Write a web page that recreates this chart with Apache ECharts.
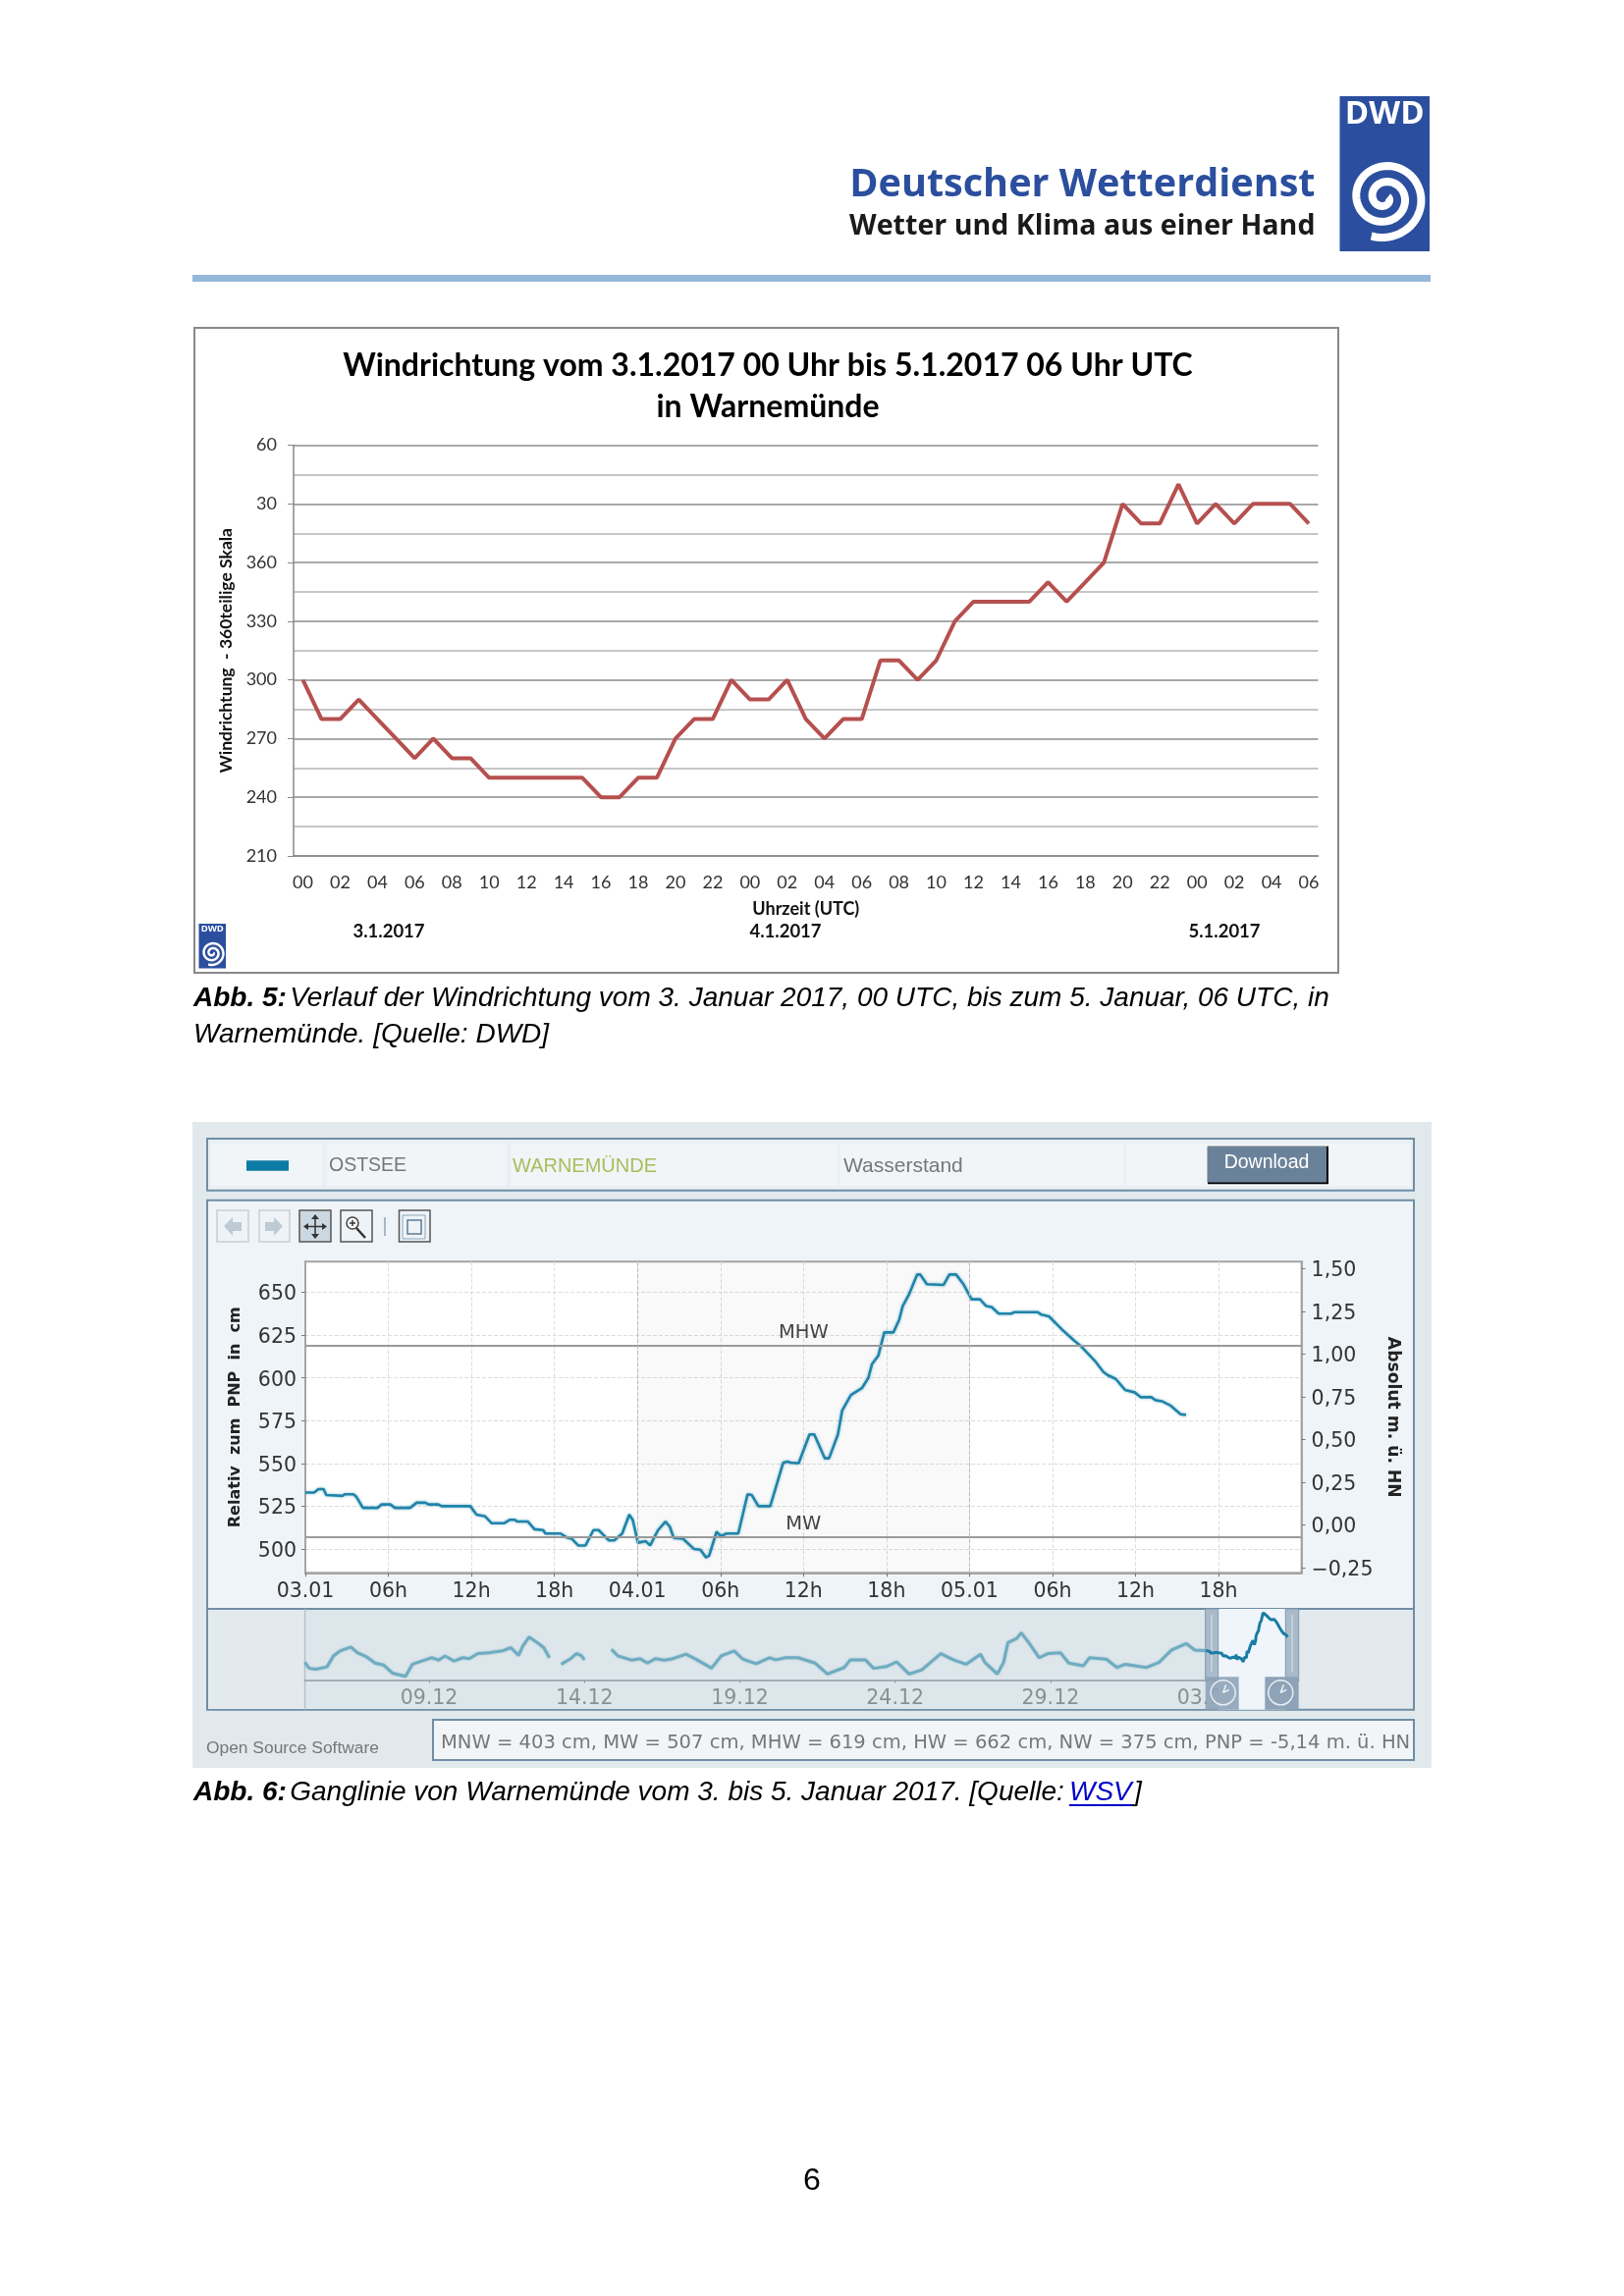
<!DOCTYPE html>
<html><head><meta charset="utf-8">
<script src="https://cdn.jsdelivr.net/npm/echarts@6/dist/echarts.min.js"></script>
<style>html,body{margin:0;padding:0;background:#fff}#c{width:1654px;height:2339px}</style>
</head><body><div id="c"></div>
<script>
// ---- Abb. 5: wind direction (hourly, unwrapped above 360)
const windHours = ['00','01','02','03','04','05','06','07','08','09','10','11','12','13','14','15','16','17','18','19','20','21','22','23',
 '00','01','02','03','04','05','06','07','08','09','10','11','12','13','14','15','16','17','18','19','20','21','22','23',
 '00','01','02','03','04','05','06'];
const windDir = [300,280,280,290,280,270,260,270,260,260,250,250,250,250,250,250,240,240,250,250,270,280,280,300,
 290,290,300,280,270,280,280,310,310,300,310,330,340,340,340,340,350,340,350,360,390,380,380,400,380,390,380,390,390,390,380];
const windAxisWrap = 360;

// ---- Abb. 6: water level main chart
const levelHours = [0,.63,.95,1.32,1.51,2.68,2.84,3.47,3.69,4.16,5.21,5.52,6.15,6.47,7.57,8.04,8.68,8.9,9.62,9.84,11.92,12.37,13,13.47,14.35,14.76,15.14,15.3,16.09,16.56,17.19,17.35,18.45,18.93,19.24,19.72,20.25,20.82,21.2,21.92,22.33,22.9,23.41,23.66,24.04,24.6,24.92,25.49,26.03,26.34,26.62,27.29,28.08,28.55,28.96,29.18,29.72,30.03,30.44,31.29,31.96,32.27,32.74,33.6,34.54,34.86,35.08,35.65,36.44,36.78,37.54,37.85,38.49,38.8,39.43,40.22,40.69,40.95,41.41,41.84,42.5,42.92,43.17,43.62,44.22,44.44,44.92,46.13,46.55,47.03,47.55,48.15,48.76,49.21,49.6,50.11,51.02,51.26,52.92,53.2,53.74,54.65,55.55,56,57.06,57.67,57.97,58.57,59.24,59.93,60.39,61.14,61.44,61.9,62.5,63.26,63.65];
const levelCm = [533,533,535,535,531.5,531,532,532,530.5,524,524,526,526,524,524,527,527,526,526,525,525,520,519,515,515,517,517,516,516,511.5,511,509,509,506.5,506,502,502,511,511,505,505,509,520,517,503.6,504.5,502,511,516,513,506.5,506,500,499.5,495,496,510,507.5,509,509,532,531.5,525,525,550.5,551,550.5,550,567,567,553,553,567,581,590,594,600,608,613,626.6,626.6,634,642,648.7,660.5,660.5,654.8,654.4,660.5,660.5,655,646,646,642,641.5,637.6,637.6,638.5,638.5,637,636,628.6,622,619,610,603.6,601.7,599.4,593,591.6,588.7,588.7,587,586.4,584,578.8,578.4];
const leftTicks = [500,525,550,575,600,625,650];
const rightTicks = [-0.25,0,0.25,0.5,0.75,1,1.25,1.5];
const mainTickLabels = ['03.01','06h','12h','18h','04.01','06h','12h','18h','05.01','06h','12h','18h',''];
const meanHigh = 619, meanWater = 507;

// ---- Abb. 6: overview strip (days since 05.12); the selected window re-uses the main series
const overviewDays = [0,.14,.35,.71,.92,1.13,1.48,1.69,1.97,2.26,2.54,2.82,3.24,3.46,3.88,4.09,4.3,4.51,4.8,5.08,5.29,5.57,5.92,6.35,6.63,6.88,7.02,7.22,7.48,7.69,7.87,8.05,8.25,8.53,8.74,8.89,9,9.4,9.87,10.08,10.51,10.79,11.03,11.28,11.57,11.85,12.27,12.62,13.09,13.4,13.82,14.1,14.53,14.95,15.16,15.47,15.88,16.42,16.82,17.36,17.56,18.04,18.31,18.71,19.05,19.45,19.86,20.47,20.87,21.28,21.75,21.89,22.29,22.49,22.63,22.9,23.06,23.3,23.64,23.91,24.32,24.59,25.06,25.26,25.8,26.14,26.41,27.09,27.49,27.9,28.37,28.64,29];
const overviewCm = [493,473,470,478,515,532,545,526,513,491,484,457,446,487,502,509,501,515,498,509,506,523,526,532,543,517,549,579,560,543,509,null,487,504,523,517,502,null,537,515,501,506,491,506,501,506,521,502,474,515,532,504,489,509,502,509,509,491,454,476,502,502,473,479,495,454,468,523,502,487,521,493,454,493,560,573,593,560,509,523,526,491,482,509,504,476,487,476,493,535,557,535,533];
const overviewTicks = [4,9,14,19,24,29];
const overviewTickLabels = ['09.12','14.12','19.12','24.12','29.12','03.01'];
const selectionStart = 29;

// ---- page furniture helpers
const chart = echarts.init(document.getElementById('c'));
const BLUE = '#2B4E9E';
function rect(x,y,w,h,fill,stroke,lw,z){return {type:'rect',z:z==null?-1:z,shape:{x,y,width:w,height:h},style:{fill:fill||'transparent',stroke:stroke||null,lineWidth:lw||0}};}
function txt(s,x,y,font,fill,align,z,extra){return {type:'text',z:z==null?1:z,x,y,style:Object.assign({text:s,font,fill:fill||'#000',textAlign:align||'left',textVerticalAlign:'middle'},extra||{})};}
function line(x1,y1,x2,y2,c,w,z){return {type:'line',z:z==null?1:z,shape:{x1,y1,x2,y2},style:{stroke:c,lineWidth:w}};}
function poly(pts,fill,z){return {type:'polygon',z:z==null?1:z,shape:{points:pts},style:{fill}};}
function logo(x,y,w,h,fs,lw){
  const cx=x+w*.5, cy=y+h*.655, pts=[], R=w*.46, turns=2.35;
  for(let i=0;i<=140;i++){const t=i/140, a=-0.3+t*turns*2*Math.PI, r=R*(0.08+0.92*t);pts.push([cx+r*Math.cos(a),cy+r*Math.sin(a)*0.98]);}
  return [rect(x,y,w,h,BLUE,null,0,1),
    txt('DWD',x+w/2,y+h*.12,'bold '+fs+'px "Open Sans"','#fff','center',2),
    {type:'polyline',z:2,shape:{points:pts},style:{stroke:'#fff',lineWidth:lw,fill:null}}];
}
function button(x,y,w,h,on,border){return rect(x,y,w,h,on?'#CBD8E2':'#EEF3F7',border,1.5,1);}
function clock(cx,cy){return [
  {type:'circle',z:1,shape:{cx,cy,r:12.5},style:{fill:'transparent',stroke:'#E8EEF2',lineWidth:1.5}},
  line(cx,cy,cx+3,cy-8,'#F2F5F8',1.5,1),line(cx,cy,cx+6,cy-3,'#F2F5F8',1.5,1)];}

const BORDER='#6F8EA6';
const F='"Liberation Sans"';
const gfx = [
  // header
  ...logo(1364.5,98,91.5,158,33,8),
  txt('Deutscher Wetterdienst',1339.5,189,'bold 39.6px "Open Sans"',BLUE,'right'),
  txt('Wetter und Klima aus einer Hand',1339.5,231,'bold 28.6px "Open Sans"','#1a1a1a','right'),
  rect(196,280,1261,7,'#95B7D8',null,0,1),
  // Abb.5 frame
  rect(198,334,1165,657,'#fff','#888',2,-1),
  ...logo(202.5,941,27.5,45.5,9.5,2.5),
  txt('3.1.2017',396,949,'bold 18.5px Lato','#111','center'),
  txt('4.1.2017',800,949,'bold 18.5px Lato','#111','center'),
  txt('5.1.2017',1247,949,'bold 18.5px Lato','#111','center'),
  // caption 5
  {type:'text',z:1,x:197,y:1017,style:{text:'{a|Abb. 5:} {b|Verlauf der Windrichtung vom 3. Januar 2017, 00 UTC, bis zum 5. Januar, 06 UTC, in}',textVerticalAlign:'middle',
     rich:{a:{font:'italic bold 28px '+F,fill:'#000'},b:{font:'italic 28px '+F,fill:'#000'}}}},
  txt('Warnemünde. [Quelle: DWD]',197,1054,'italic 28px '+F,'#000'),
  // Abb.6 panels
  rect(196,1143,1262,658,'#E1E9EC'),
  rect(211,1160,1229,52.7,'#E9F0F5',BORDER,2),
  rect(215,1165,113,43,'#F1F5F7'),rect(333,1165,183,43,'#F1F5F7'),rect(520,1165,333,43,'#F1F5F7'),rect(856,1165,288,43,'#F1F5F7'),rect(1147,1165,290,43,'#F1F5F7'),
  rect(251,1182.3,43,10.4,'#0E7BA4',null,0,1),
  txt('OSTSEE',335,1188,'19.5px '+F,'#777'),
  txt('WARNEMÜNDE',522,1188,'20px '+F,'#A9BD5C'),
  txt('Wasserstand',859,1188,'21px '+F,'#777'),
  rect(1230,1167.7,123,38.5,'#000',null,0,1),
  rect(1229.5,1168,121.5,36.5,'#6A8299',null,0,1),
  txt('Download',1290,1184.5,'19.5px '+F,'#fff','center',2),
  rect(211,1222.7,1229,416.3,'#EFF4F8',BORDER,2),
  rect(211,1639,1229,102.7,'#E3EAEE',BORDER,2),
  rect(212,1640,98.5,101,'#E3EAEE',null,0),
  rect(310.5,1640,917,101,'#DDE6EA',null,0),
  line(310.5,1639,310.5,1741.7,'#B5C0C8',1.5,0),
  // toolbar
  button(221,1233,32,32,false,'#C5CFD6'),poly([[228,1249],[237,1240],[237,1245],[246,1245],[246,1254],[237,1254],[237,1259]],'#BCCBD6',2),
  button(264,1233,31,32,false,'#C5CFD6'),poly([[288,1249],[279,1240],[279,1245],[270,1245],[270,1254],[279,1254],[279,1259]],'#BCCBD6',2),
  button(305,1233,32,32,true,'#555'),
  line(321,1239,321,1260,'#333',1.5,2),line(311,1249.5,331,1249.5,'#333',1.5,2),
  poly([[321,1237],[317,1242],[325,1242]],'#333',2),poly([[321,1262],[317,1257],[325,1257]],'#333',2),poly([[309,1249.5],[314,1246],[314,1253]],'#333',2),poly([[333,1249.5],[328,1246],[328,1253]],'#333',2),
  button(347,1233,32,32,false,'#555'),
  {type:'circle',z:2,shape:{cx:359,cy:1246,r:6},style:{fill:'#fff',stroke:'#444',lineWidth:1.5}},
  line(363,1251,372,1261,'#333',2.5,2),line(356,1246,362,1246,'#333',1.5,2),line(359,1243,359,1249,'#333',1.5,2),
  rect(391,1240,2,19,'#A8B8C5',null,0,1),
  button(406.5,1233,31.5,32,false,'#555'),
  rect(415,1243,14,14,'#EEF3F7','#5C7C95',1.5,2),
  rect(410,1238,23,24,'transparent','#8EA6B8',1,2),
  // selection window in overview
  rect(1240.7,1639,68.6,102.7,'#EFF5FA',null,0,0.5),
  rect(1227.7,1639,13,72,'#A9BBCB','#8195AA',1,1),
  rect(1309.3,1639,13.4,72,'#A9BBCB','#8195AA',1,1),
  rect(1227.7,1708.3,34,33.4,'rgba(142,163,184,.9)',null,0,1),
  rect(1288.3,1708.3,34.4,33.4,'#8EA3B8',null,0,1),
  line(1234,1645,1234,1703,'#CBD6DF',1.5,1),line(1316,1645,1316,1703,'#CBD6DF',1.5,1),
  ...clock(1245.7,1724.3),...clock(1304.3,1724.3),
  // footer of panel
  txt('Open Source Software',210,1781,'17.4px '+F,'#777'),
  rect(441,1752,999,41,'#F1F5F8',BORDER,2),
  txt('MNW = 403 cm, MW = 507 cm, MHW = 619 cm, HW = 662 cm, NW = 375 cm, PNP = -5,14 m. ü. HN',449,1775.5,'19.55px "DejaVu Sans"','#777'),
  // caption 6
  {type:'text',z:1,x:197,y:1826,style:{text:'{a|Abb. 6:} {b|Ganglinie von Warnemünde vom 3. bis 5. Januar 2017. [Quelle: }',textVerticalAlign:'middle',
     rich:{a:{font:'italic bold 28px '+F,fill:'#000'},b:{font:'italic 28px '+F,fill:'#000'}}}},
  txt('WSV',1089,1826,'italic 28px '+F,'#0000C8'),
  line(1089,1839,1155,1839,'#0000C8',2),
  txt(']',1155,1826,'italic 28px '+F,'#000'),
  // page number
  txt('6',827,2222,'32px '+F,'#000','center')
];

const DJ='"DejaVu Sans"';
const pairs = (xs,ys)=>xs.map((x,i)=>[x,ys[i]]);
const selectedPairs = levelHours.map((h,i)=>[selectionStart+h/24,levelCm[i]]);
const formatRight = v => (v<0?'−':'') + Math.abs(v).toFixed(2).replace('.',',');

chart.setOption({
  animation:false,
  backgroundColor:'#fff',
  title:[{text:'Windrichtung vom 3.1.2017 00 Uhr bis 5.1.2017 06 Uhr UTC\nin Warnemünde',left:777,top:347,textAlign:'center',
    textStyle:{fontFamily:'Lato',fontWeight:'bold',fontSize:32,lineHeight:42,color:'#000'}}],
  graphic:{elements:gfx},
  grid:[
    {left:299,width:1043.5,top:453.6,height:418.4},
    {left:311,width:1014.6,top:1285.3,height:317,show:true,backgroundColor:'#fff',borderColor:'#A5A5A5',borderWidth:2},
    {left:310.5,width:1012.5,top:1639,height:72.7}
  ],
  xAxis:[
    {gridIndex:0,type:'category',data:windHours,boundaryGap:true,
     name:'Uhrzeit (UTC)',nameLocation:'middle',nameGap:45,nameTextStyle:{fontFamily:'Lato',fontWeight:'bold',fontSize:18,color:'#111'},
     axisLine:{onZero:false,lineStyle:{color:'#888',width:1.5}},axisTick:{interval:0,length:6,lineStyle:{color:'#888'}},
     axisLabel:{interval:1,margin:18,fontFamily:'Lato',fontSize:18,color:'#333'},splitLine:{show:false}},
    {gridIndex:1,type:'value',min:0,max:72,interval:6,
     axisLine:{onZero:false,lineStyle:{color:'#A5A5A5',width:2}},axisTick:{length:4,lineStyle:{color:'#777'}},
     axisLabel:{margin:9,fontFamily:DJ,fontSize:20.5,color:'#333',showMaxLabel:false,formatter:v=>mainTickLabels[Math.round(v/6)]},
     splitLine:{show:true,lineStyle:{color:'#DDD',type:'dashed',width:1}}},
    {gridIndex:2,type:'value',min:0,max:32,
     axisLine:{onZero:false,lineStyle:{color:'#8F9CA6',width:1.5}},
     axisTick:{customValues:overviewTicks,length:3,lineStyle:{color:'#8F9CA6'}},
     axisLabel:{customValues:overviewTicks,margin:8,fontFamily:DJ,fontSize:20.5,color:'#8A8F93',formatter:v=>overviewTickLabels[overviewTicks.indexOf(v)]},
     splitLine:{show:false}}
  ],
  yAxis:[
    {gridIndex:0,type:'value',min:210,max:420,interval:30,
     name:'Windrichtung  - 360teilige Skala',nameLocation:'middle',nameGap:53,nameTextStyle:{fontFamily:'Lato',fontWeight:'bold',fontSize:17.5,color:'#111'},
     axisLine:{show:true,lineStyle:{color:'#888',width:1.5}},axisTick:{show:true,length:6,lineStyle:{color:'#888'}},
     axisLabel:{margin:17,fontFamily:'Lato',fontSize:18,color:'#333',formatter:v=>String(v>windAxisWrap?v-windAxisWrap:v)},
     splitLine:{show:true,lineStyle:{color:'#8C8C8C',width:1.5}},
     minorTick:{show:false,splitNumber:2},minorSplitLine:{show:true,lineStyle:{color:'#B4B4B4',width:1.5}}},
    {gridIndex:1,type:'value',min:486,max:668,
     name:'Relativ  zum  PNP  in  cm',nameLocation:'middle',nameGap:63,nameTextStyle:{fontFamily:DJ,fontWeight:'bold',fontSize:16,color:'#222'},
     axisLine:{show:true,lineStyle:{color:'#A5A5A5',width:2}},
     axisTick:{show:true,customValues:leftTicks,length:4,lineStyle:{color:'#777'}},
     axisLabel:{customValues:leftTicks,margin:9,verticalAlign:'top',lineHeight:5,fontFamily:DJ,fontSize:20.5,color:'#333'},
     splitLine:{show:true,lineStyle:{color:'#DDD',type:'dashed',width:1}}},
    {gridIndex:1,type:'value',position:'right',min:-0.28,max:1.54,
     name:'Absolut m. ü. HN',nameLocation:'middle',nameGap:84,nameRotate:-90,nameTextStyle:{fontFamily:DJ,fontWeight:'bold',fontSize:17.2,color:'#222'},
     axisLine:{show:true,lineStyle:{color:'#A5A5A5',width:2}},
     axisTick:{show:true,customValues:rightTicks,length:4,lineStyle:{color:'#777'}},
     axisLabel:{customValues:rightTicks,margin:10,verticalAlign:'top',lineHeight:5,fontFamily:DJ,fontSize:20.5,color:'#333',formatter:formatRight},
     splitLine:{show:false}},
    {gridIndex:2,type:'value',show:false,min:433,max:674,splitLine:{show:false}}
  ],
  series:[
    {name:'Windrichtung',type:'line',xAxisIndex:0,yAxisIndex:0,data:windDir,symbol:'none',
     lineStyle:{color:'#B5504F',width:4}},
    {name:'Wasserstand',type:'line',xAxisIndex:1,yAxisIndex:1,data:pairs(levelHours,levelCm),symbol:'none',
     lineStyle:{color:'#1F84A9',width:2.6,shadowBlur:3,shadowColor:'rgba(31,132,169,.5)'},
     markArea:{silent:true,itemStyle:{color:'rgba(0,0,0,.022)'},data:[[{xAxis:24},{xAxis:48}]]},
     markLine:{silent:true,symbol:'none',animation:false,data:[
       {yAxis:meanHigh,name:'MHW',lineStyle:{color:'#9A9A9A',width:2,type:'solid'},label:{show:true,formatter:'MHW',position:'insideMiddleTop',fontFamily:DJ,fontSize:19.5,color:'#444',distance:3}},
       {yAxis:meanWater,name:'MW',lineStyle:{color:'#9A9A9A',width:2,type:'solid'},label:{show:true,formatter:'MW',position:'insideMiddleTop',fontFamily:DJ,fontSize:19.5,color:'#444',distance:3}},
       {xAxis:24,label:{show:false},lineStyle:{color:'#BBB',type:'dashed',width:1}},
       {xAxis:48,label:{show:false},lineStyle:{color:'#BBB',type:'dashed',width:1}}
     ]}},
    {name:'Übersicht',type:'line',xAxisIndex:2,yAxisIndex:3,data:pairs(overviewDays,overviewCm),symbol:'none',connectNulls:false,
     lineStyle:{color:'#6FACC1',width:3,shadowBlur:2,shadowColor:'rgba(111,172,193,.6)'}},
    {name:'Auswahl',type:'line',xAxisIndex:2,yAxisIndex:3,data:selectedPairs,symbol:'none',
     lineStyle:{color:'#1A7CA3',width:3}}
  ]
});
</script></body></html>
